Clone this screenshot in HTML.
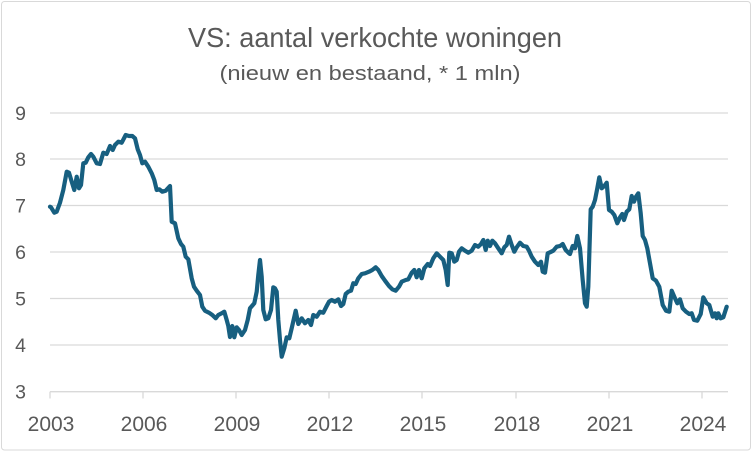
<!DOCTYPE html>
<html>
<head>
<meta charset="utf-8">
<style>
html,body{margin:0;padding:0;background:#fff;}
svg{display:block;}
</style>
</head>
<body>
<svg width="752" height="452" viewBox="0 0 752 452" xmlns="http://www.w3.org/2000/svg">
<rect x="1.5" y="1.5" width="749" height="448.5" rx="3" fill="#fff" stroke="#d9d9d9" stroke-width="1"/>
<text x="375" y="47" font-family="Liberation Sans, Arial, sans-serif" font-size="28" fill="#595959" text-anchor="middle" textLength="374" lengthAdjust="spacingAndGlyphs">VS: aantal verkochte woningen</text>
<text x="370" y="80" font-family="Liberation Sans, Arial, sans-serif" font-size="20" fill="#595959" text-anchor="middle" textLength="301" lengthAdjust="spacingAndGlyphs">(nieuw en bestaand, * 1 mln)</text>
<g stroke="#d9d9d9" stroke-width="1.3">
<line x1="50" y1="113" x2="728" y2="113"/>
<line x1="50" y1="159" x2="728" y2="159"/>
<line x1="50" y1="205.5" x2="728" y2="205.5"/>
<line x1="50" y1="252" x2="728" y2="252"/>
<line x1="50" y1="298.5" x2="728" y2="298.5"/>
<line x1="50" y1="345" x2="728" y2="345"/>
<line x1="50" y1="391.7" x2="728" y2="391.7"/>
<line x1="50" y1="391.7" x2="50" y2="398.5"/>
<line x1="143" y1="391.7" x2="143" y2="398.5"/>
<line x1="236" y1="391.7" x2="236" y2="398.5"/>
<line x1="329" y1="391.7" x2="329" y2="398.5"/>
<line x1="422" y1="391.7" x2="422" y2="398.5"/>
<line x1="516" y1="391.7" x2="516" y2="398.5"/>
<line x1="609" y1="391.7" x2="609" y2="398.5"/>
<line x1="702" y1="391.7" x2="702" y2="398.5"/>
</g>
<g font-family="Liberation Sans, Arial, sans-serif" font-size="19.5" fill="#595959" text-anchor="end">
<text x="26" y="120">9</text>
<text x="26" y="166">8</text>
<text x="26" y="212.5">7</text>
<text x="26" y="259">6</text>
<text x="26" y="305.5">5</text>
<text x="26" y="352">4</text>
<text x="26" y="398.7">3</text>
</g>
<g font-family="Liberation Sans, Arial, sans-serif" font-size="21" fill="#595959" text-anchor="middle">
<text x="51" y="431">2003</text>
<text x="144" y="431">2006</text>
<text x="237" y="431">2009</text>
<text x="330" y="431">2012</text>
<text x="423" y="431">2015</text>
<text x="517" y="431">2018</text>
<text x="610" y="431">2021</text>
<text x="703" y="431">2024</text>
</g>
<polyline fill="none" stroke="#175f80" stroke-width="4.2" stroke-linejoin="round" stroke-linecap="round" points="
50,206.7 51,207.3 54.3,212.7 56.7,211.7 60,202.7 63.3,190 66.7,171.7 69,172.7 71.7,181.7 74.3,190 76.7,176.7 79,188.3 81,185 83.3,163.3 85.7,162.7 88.3,157.3 91,154 93.3,156.7 96.7,163.3 100,164 103.3,152.7 106.7,154 110,146 112.7,150 115,145 118.3,141.7 121.7,142.7 125.7,135 129,136 132.3,136 135,138.3 137.7,149.3 140,155 142.3,163.3 145,161.7 148.3,166.7 151.7,173.3 154.3,180 156.7,190 159.3,189.3 162.3,191.7 165.7,190.7 170,186 171.7,221.7 175,223.3 178.3,238.3 181,244 183.3,246.7 185.7,256.7 188.3,259.3 191.7,278.3 194,286.7 196.7,290.7 200,295 202.3,306.7 205,310.7 209,312.7 212.3,315 215.7,318.3 218.3,315 221.7,313.3 224.3,311.7 226.7,320 228.3,326 230,337 232.3,326 234.3,337.3 236.7,327.3 239,330 241.7,335 245,330 247.7,320 250,308.3 254.3,303.3 256.7,291.7 258.3,275 260,260 261.7,276.7 263.3,310 265.7,319.3 268.3,318.3 271,310 273.3,287.3 275,288.3 276.7,291.7 278.3,320 280,340 281.7,356.7 284.3,348.3 286.7,337.3 289.3,338.3 291.7,328.3 295.7,310.7 298.3,324 301.7,318.3 305,323.3 308.3,320 311,325 313.3,315 316.7,316.7 320,311.7 323.3,312.7 326.7,306 329,301.7 331.7,300 335,301.7 338.3,299.3 341,306 343.3,304 345.7,294 348.3,291.7 351,290.7 353.3,283.3 355.7,284 358.3,278.3 361.7,274 365,273.3 369,271.7 372.3,270 375.7,267.3 378.3,270 381.7,276 385,280.7 389,286 392.3,289.3 395.7,290.7 399,286.7 401.7,281.7 405.7,280 408.3,279.3 411.7,272.7 414.3,270 416.7,277.3 419,270 421.7,278.3 424.3,268.3 427.7,264 430,266 433.3,258.3 436.7,253.3 440,256.7 443.3,260 445.7,270 447.7,285 449.3,252.7 451.7,253.3 454.3,261.7 456.7,260 459,251.7 461.7,248.3 465,250.7 468.3,252.7 471.7,250.7 475,245 478.3,246.7 481,244 483.3,240 485.7,250 487.7,240.7 490,246 492.3,240.7 495,243.3 498.3,248.3 501.7,253.3 504.3,247.3 506.7,245 509,236.7 511.7,245 514.3,251.7 516.7,247.3 520,242.7 523.3,246 526.7,246.7 529,250.7 531.7,256.7 535,261.7 538.3,265 541,261.7 542.7,271.7 545,272.7 547.7,253.3 550,252.3 553.3,250.7 556.7,246.7 560,246 562.7,244 565.7,250 569,253.3 570,254 572.7,246 575,248.3 577.3,236 580,248.3 582.7,280 585,303.3 586.7,306.7 588.3,286.7 590.7,209.3 592.7,206.7 595,200 597.3,188.3 599.3,177.3 601.7,188.3 604.3,186 606.7,182.7 609,210 611.7,211.7 614.3,215 617.3,223.3 620,217.3 622.3,214 624,220 626.7,211.7 629.3,209.3 631.7,196 634,201.7 636,196.7 638.3,193.3 640.7,213.3 642.7,236 645,240 647.3,248.3 650,263.3 652.7,278.3 656,280.7 659.3,286.7 662.7,305 666,310.7 669.3,311.7 671.7,290.7 675,298.3 677.3,303.3 680,299.3 682.7,308.3 686,311.7 689.3,314 691.7,313.3 694,320 697.3,320.7 700.7,314 703.3,297.3 706.7,303.3 709.3,305 712.7,316.7 715,313.3 716.7,318.3 718.3,313.3 720.7,318.3 723.3,317.3 726.7,306.7"/>
</svg>
</body>
</html>
